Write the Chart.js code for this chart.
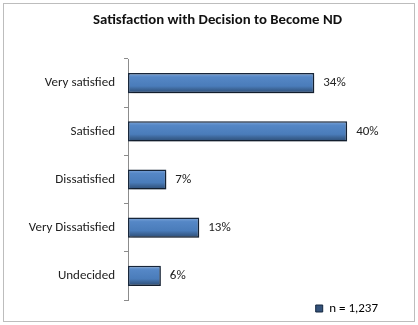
<!DOCTYPE html>
<html lang="en">
<head>
<meta charset="UTF-8">
<title>Satisfaction with Decision to Become ND</title>
<style>
  html, body { margin: 0; padding: 0; background: #fff; }
  .wrap { width: 418px; height: 325px; position: relative; }
</style>
</head>
<body>
<div class="wrap">
  <canvas id="satChart" width="418" height="325"></canvas>
</div>

<script src="https://cdn.jsdelivr.net/npm/chart.js@4.4.1/dist/chart.umd.min.js"></script>
<script>
  // data
  const categories = ['Very satisfied', 'Satisfied', 'Dissatisfied', 'Very Dissatisfied', 'Undecided'];
  const percents = [34, 40, 7, 13, 6];
  const seriesName = 'n = 1,237';
  const chartTitle = 'Satisfaction with Decision to Become ND';

  const fontFamily = 'Carlito, Lato, "Open Sans", sans-serif';

  // outer frame round the whole chart, and the title (sits a bit right of centre, like the original)
  const framePlugin = {
    id: 'frame',
    beforeDraw(chart) {
      const ctx = chart.ctx;
      ctx.save();
      ctx.fillStyle = '#fff';
      ctx.fillRect(0, 0, chart.width, chart.height);
      ctx.strokeStyle = '#bdbdbd';
      ctx.lineWidth = 1;
      ctx.strokeRect(3.5, 3.5, chart.width - 7, chart.height - 7);
      ctx.fillStyle = '#111';
      ctx.font = 'bold 14.8px ' + fontFamily;
      ctx.textAlign = 'center';
      ctx.textBaseline = 'middle';
      ctx.fillText(chartTitle, 217.5, 20);
      ctx.restore();
    }
  };

  // soft drop shadow under the bars
  const shadowPlugin = {
    id: 'barShadow',
    beforeDatasetDraw(chart) {
      const ctx = chart.ctx;
      ctx.save();
      ctx.shadowColor = 'rgba(0,0,0,0.3)';
      ctx.shadowBlur = 3;
      ctx.shadowOffsetX = 1;
      ctx.shadowOffsetY = 2;
    },
    afterDatasetDraw(chart) {
      chart.ctx.restore();
    }
  };

  // value labels at the end of each bar
  const valueLabels = {
    id: 'valueLabels',
    afterDatasetsDraw(chart) {
      const ctx = chart.ctx;
      const meta = chart.getDatasetMeta(0);
      ctx.save();
      ctx.font = '13px ' + fontFamily;
      ctx.fillStyle = '#222';
      ctx.textAlign = 'left';
      ctx.textBaseline = 'middle';
      meta.data.forEach((bar, i) => {
        ctx.fillText(percents[i] + '%', bar.x + 9, bar.y);
      });
      ctx.restore();
    }
  };

  function barFill(context) {
    const chart = context.chart;
    const yScale = chart.scales.y;
    if (context.dataIndex === undefined || !yScale) return '#4a7cba';
    const yc = yScale.getPixelForValue(context.dataIndex);
    const g = chart.ctx.createLinearGradient(0, yc - 10, 0, yc + 10);
    g.addColorStop(0, '#7ea6da');
    g.addColorStop(0.2, '#5587c6');
    g.addColorStop(0.65, '#4a7cba');
    g.addColorStop(0.8, '#3d6699');
    g.addColorStop(1, '#2c4c75');
    return g;
  }

  const ctx = document.getElementById('satChart').getContext('2d');
  new Chart(ctx, {
    type: 'bar',
    data: {
      labels: categories,
      datasets: [{
        label: seriesName,
        data: percents,
        backgroundColor: barFill,
        borderColor: '#17263a',
        borderWidth: 1.5,
        borderSkipped: false,
        categoryPercentage: 1,
        barPercentage: 0.42
      }]
    },
    options: {
      indexAxis: 'y',
      responsive: false,
      animation: false,
      layout: { padding: { left: 0, right: 38, top: 59, bottom: 0 } },
      scales: {
        x: {
          display: false,
          min: 0,
          max: 46
        },
        y: {
          offset: true,
          afterFit(scale) { scale.width = 128; },
          border: { display: true, color: '#8c8c8c', width: 1 },
          grid: {
            offset: true,
            drawOnChartArea: false,
            drawTicks: true,
            tickLength: 4,
            color: '#8c8c8c'
          },
          ticks: {
            color: '#222',
            padding: 9,
            font: { family: fontFamily, size: 13 }
          }
        }
      },
      plugins: {
        title: { display: false },
        legend: {
          position: 'bottom',
          align: 'end',
          labels: {
            color: '#222',
            boxWidth: 7,
            boxHeight: 7,
            padding: 2,
            font: { family: fontFamily, size: 13 },
            generateLabels() {
              return [{
                text: seriesName,
                fillStyle: '#34527a',
                strokeStyle: '#14273f',
                lineWidth: 1,
                datasetIndex: 0
              }];
            }
          }
        },
        tooltip: { enabled: false }
      }
    },
    plugins: [framePlugin, shadowPlugin, valueLabels]
  });
</script>
</body>
</html>
